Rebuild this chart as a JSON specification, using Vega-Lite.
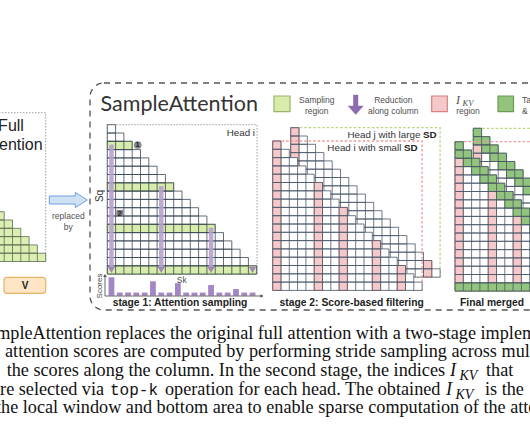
{
"$schema":"https://vega.github.io/schema/vega-lite/v6.json",
"width":530,"height":442,"padding":0,"autosize":{"type":"none"},"background":"white",
"config":{"view":{"stroke":null},"axis":{"disable":true},"legend":{"disable":true}},
"resolve":{"scale":{"x":"independent","y":"independent"}},
"datasets":{
"tri":[{"r":0,"r1":1,"c0":0,"c1":1,"e":18},{"r":1,"r1":2,"c0":0,"c1":2,"e":18},{"r":2,"r1":3,"c0":0,"c1":3,"e":18},{"r":3,"r1":4,"c0":0,"c1":4,"e":18},{"r":4,"r1":5,"c0":0,"c1":5,"e":18},{"r":5,"r1":6,"c0":0,"c1":6,"e":18},{"r":6,"r1":7,"c0":0,"c1":7,"e":18},{"r":7,"r1":8,"c0":0,"c1":8,"e":18},{"r":8,"r1":9,"c0":0,"c1":9,"e":18},{"r":9,"r1":10,"c0":0,"c1":10,"e":18},{"r":10,"r1":11,"c0":0,"c1":11,"e":18},{"r":11,"r1":12,"c0":0,"c1":12,"e":18},{"r":12,"r1":13,"c0":0,"c1":13,"e":18},{"r":13,"r1":14,"c0":0,"c1":14,"e":18},{"r":14,"r1":15,"c0":0,"c1":15,"e":18},{"r":15,"r1":16,"c0":0,"c1":16,"e":18},{"r":16,"r1":17,"c0":0,"c1":17,"e":18},{"r":17,"r1":18,"c0":0,"c1":18,"e":18}]
},
"layer":[
{"data":{"values":[{"x":90,"x2":600,"y":83,"y2":310}]},"mark":{"type":"rect","fillOpacity":0,"stroke":"#555","strokeWidth":1.3,"strokeDash":[6,5],"cornerRadius":14},
 "encoding":{"x":{"field":"x","type":"quantitative","scale":{"domain":[0,530],"range":[0,530],"nice":false,"zero":false}},"x2":{"field":"x2"},"y":{"field":"y","type":"quantitative","scale":{"domain":[0,442],"range":[0,442],"nice":false,"zero":false}},"y2":{"field":"y2"}}},
{"data":{"values":[{"x":-10,"x2":45.7,"y":112.7,"y2":261.5},{"x":107.3,"x2":257,"y":124.7,"y2":274}]},"mark":{"type":"rect","fillOpacity":0,"stroke":"#9aa0a6","strokeWidth":1,"strokeDash":[1.5,1.5]},
 "encoding":{"x":{"field":"x","type":"quantitative","scale":{"domain":[0,530],"range":[0,530],"nice":false,"zero":false}},"x2":{"field":"x2"},"y":{"field":"y","type":"quantitative","scale":{"domain":[0,442],"range":[0,442],"nice":false,"zero":false}},"y2":{"field":"y2"}}},

{"data":{"name":"tri"},"layer":[
 {"mark":{"type":"rect","fill":"#dcefb3","strokeWidth":0},"encoding":{"x":{"field":"c0","type":"quantitative","scale":{"domain":[0,18],"range":[-103.7,45.7],"nice":false,"zero":false}},"x2":{"field":"c1"},"y":{"field":"r","type":"quantitative","scale":{"domain":[0,18],"range":[112.1,261.5],"nice":false,"zero":false}},"y2":{"field":"r1"}}},
 {"mark":{"type":"rect","fillOpacity":0,"stroke":"#5d6b4f","strokeWidth":0.8},"encoding":{"x":{"field":"c0","type":"quantitative","scale":{"domain":[0,18],"range":[-103.7,45.7],"nice":false,"zero":false}},"x2":{"field":"c1"},"y":{"field":"r","type":"quantitative","scale":{"domain":[0,18],"range":[112.1,261.5],"nice":false,"zero":false}},"y2":{"field":"r1"}}},
 {"mark":{"type":"rule","stroke":"#5d6b4f","strokeWidth":0.8},"encoding":{"x":{"field":"c1","type":"quantitative","scale":{"domain":[0,18],"range":[-103.7,45.7],"nice":false,"zero":false}},"y":{"field":"c1","type":"quantitative","scale":{"domain":[0,18],"range":[112.1,261.5],"nice":false,"zero":false}},"y2":{"field":"e"}}}
]},

{"data":{"values":[{"x":4,"x2":45.7,"y":277.3,"y2":293.3}]},"mark":{"type":"rect","fill":"#fde5c6","stroke":"#e6b465","strokeWidth":1.2,"cornerRadius":3},
 "encoding":{"x":{"field":"x","type":"quantitative","scale":{"domain":[0,530],"range":[0,530],"nice":false,"zero":false}},"x2":{"field":"x2"},"y":{"field":"y","type":"quantitative","scale":{"domain":[0,442],"range":[0,442],"nice":false,"zero":false}},"y2":{"field":"y2"}}},

{"data":{"values":[{"x":68.3,"y":200}]},"mark":{"type":"point","filled":true,"shape":"M-1,-0.21 L0.37,-0.21 L0.37,-0.4 L1,0 L0.37,0.4 L0.37,0.21 L-1,0.21 Z","size":1444,"fill":"#cfe2f3","stroke":"#6d9eeb","strokeWidth":1,"opacity":1},
 "encoding":{"x":{"field":"x","type":"quantitative","scale":{"domain":[0,530],"range":[0,530],"nice":false,"zero":false}},"y":{"field":"y","type":"quantitative","scale":{"domain":[0,442],"range":[0,442],"nice":false,"zero":false}}}},
{"data":{"values":[{"x":355.7,"y":104.7}]},"mark":{"type":"point","filled":true,"shape":"M-0.25,-1 L0.25,-1 L0.25,0.1 L0.8,0.1 L0,1 L-0.8,0.1 L-0.25,0.1 Z","size":400,"fill":"#8e6cae","strokeWidth":0,"opacity":1},
 "encoding":{"x":{"field":"x","type":"quantitative","scale":{"domain":[0,530],"range":[0,530],"nice":false,"zero":false}},"y":{"field":"y","type":"quantitative","scale":{"domain":[0,442],"range":[0,442],"nice":false,"zero":false}}}},
{"data":{"values":[{"k":"sample","x":274,"x2":290,"y":96,"y2":111.7},{"k":"pink","x":431.7,"x2":447.3,"y":96,"y2":111.7},{"k":"green","x":498,"x2":513.5,"y":96,"y2":111.7}]},"mark":{"type":"rect","strokeWidth":1.2},
 "encoding":{"x":{"field":"x","type":"quantitative","scale":{"domain":[0,530],"range":[0,530],"nice":false,"zero":false}},"x2":{"field":"x2"},"y":{"field":"y","type":"quantitative","scale":{"domain":[0,442],"range":[0,442],"nice":false,"zero":false}},"y2":{"field":"y2"},
 "fill":{"field":"k","type":"nominal","scale":{"domain":["sample","pink","green"],"range":["#d8ecab","#f4c9c9","#93c47d"]},"legend":null},
 "stroke":{"field":"k","type":"nominal","scale":{"domain":["sample","pink","green"],"range":["#9bb36d","#d98080","#6d9b57"]},"legend":null}}},

{"data":{"name":"tri"},"layer":[
 {"mark":{"type":"rect","fill":"#ffffff","strokeWidth":0},"encoding":{"x":{"field":"c0","type":"quantitative","scale":{"domain":[0,18],"range":[107.3,256.7],"nice":false,"zero":false}},"x2":{"field":"c1"},"y":{"field":"r","type":"quantitative","scale":{"domain":[0,18],"range":[124.7,274.1],"nice":false,"zero":false}},"y2":{"field":"r1"}}},
 {"data":{"values":[{"k":"sample","c0":0,"c1":3,"r0":2,"r1":3},{"k":"sample","c0":0,"c1":8,"r0":7,"r1":8},{"k":"sample","c0":0,"c1":13,"r0":12,"r1":13},{"k":"sample","c0":0,"c1":18,"r0":17,"r1":18}]},"mark":{"type":"rect","strokeWidth":0.8},
  "encoding":{"x":{"field":"c0","type":"quantitative","scale":{"domain":[0,18],"range":[107.3,256.7],"nice":false,"zero":false}},"x2":{"field":"c1"},"y":{"field":"r0","type":"quantitative","scale":{"domain":[0,18],"range":[124.7,274.1],"nice":false,"zero":false}},"y2":{"field":"r1"},
  "fill":{"field":"k","type":"nominal","scale":{"domain":["sample","pink","green"],"range":["#d8ecab","#f4c9c9","#93c47d"]},"legend":null},
  "stroke":{"field":"k","type":"nominal","scale":{"domain":["sample","pink","green"],"range":["#9bb36d","#d98080","#6d9b57"]},"legend":null}}},
 {"mark":{"type":"rect","fillOpacity":0,"stroke":"#3a4756","strokeWidth":0.8},"encoding":{"x":{"field":"c0","type":"quantitative","scale":{"domain":[0,18],"range":[107.3,256.7],"nice":false,"zero":false}},"x2":{"field":"c1"},"y":{"field":"r","type":"quantitative","scale":{"domain":[0,18],"range":[124.7,274.1],"nice":false,"zero":false}},"y2":{"field":"r1"}}},
 {"mark":{"type":"rule","stroke":"#3a4756","strokeWidth":0.8},"encoding":{"x":{"field":"c1","type":"quantitative","scale":{"domain":[0,18],"range":[107.3,256.7],"nice":false,"zero":false}},"y":{"field":"c1","type":"quantitative","scale":{"domain":[0,18],"range":[124.7,274.1],"nice":false,"zero":false}},"y2":{"field":"e"}}}
]},
{"data":{"values":[{"c":0,"r":2.4,"r2":17.3,"h":17.5},{"c":6,"r":7.4,"r2":17.3,"h":17.5},{"c":12,"r":12.4,"r2":17.3,"h":17.5},{"c":17,"r":17.2,"r2":17.3,"h":17.5}]},"layer":[
 {"mark":{"type":"rule","stroke":"#b7a0cf","strokeWidth":4.5,"opacity":0.9},"encoding":{"x":{"field":"c","type":"ordinal","scale":{"type":"point","domain":[0,1,2,3,4,5,6,7,8,9,10,11,12,13,14,15,16,17],"range":[107.3,256.7],"padding":0.5}},"y":{"field":"r","type":"quantitative","scale":{"domain":[0,18],"range":[124.7,274.1],"nice":false,"zero":false}},"y2":{"field":"r2"}}},
 {"mark":{"type":"point","shape":"triangle-down","filled":true,"size":50,"fill":"#9f88b8","opacity":1},"encoding":{"x":{"field":"c","type":"ordinal","scale":{"type":"point","domain":[0,1,2,3,4,5,6,7,8,9,10,11,12,13,14,15,16,17],"range":[107.3,256.7],"padding":0.5}},"y":{"field":"h","type":"quantitative","scale":{"domain":[0,18],"range":[124.7,274.1],"nice":false,"zero":false}}}}
]},
{"data":{"values":[{"c":0,"s":1.0},{"c":1,"s":0.17},{"c":2,"s":0.17},{"c":3,"s":0.17},{"c":4,"s":0.17},{"c":5,"s":0.78},{"c":6,"s":0.17},{"c":7,"s":0.17},{"c":8,"s":0.68},{"c":9,"s":0.17},{"c":10,"s":0.17},{"c":11,"s":0.17},{"c":12,"s":0.58},{"c":13,"s":0.17},{"c":14,"s":0.17},{"c":15,"s":0.36},{"c":16,"s":0.17},{"c":17,"s":0.17}]},
 "mark":{"type":"bar","fill":"#a387c4"},
 "encoding":{"x":{"field":"c","type":"ordinal","scale":{"type":"band","domain":[0,1,2,3,4,5,6,7,8,9,10,11,12,13,14,15,16,17],"range":[107.3,256.7],"paddingInner":0.3,"paddingOuter":0.15}},"y":{"field":"s","type":"quantitative","scale":{"domain":[0,1],"range":[295.7,277.3],"nice":false,"zero":true}}}},
{"data":{"values":[{"x":105,"y":296,"x2":105,"y2":276},{"x":105,"y":296,"x2":261,"y2":296}]},"mark":{"type":"rule","stroke":"#555","strokeWidth":0.9},
 "encoding":{"x":{"field":"x","type":"quantitative","scale":{"domain":[0,530],"range":[0,530],"nice":false,"zero":false}},"x2":{"field":"x2"},"y":{"field":"y","type":"quantitative","scale":{"domain":[0,442],"range":[0,442],"nice":false,"zero":false}},"y2":{"field":"y2"}}},
{"data":{"values":[{"x":105,"y":275.5}]},"mark":{"type":"point","shape":"triangle-up","filled":true,"size":14,"fill":"#555","opacity":1},
 "encoding":{"x":{"field":"x","type":"quantitative","scale":{"domain":[0,530],"range":[0,530],"nice":false,"zero":false}},"y":{"field":"y","type":"quantitative","scale":{"domain":[0,442],"range":[0,442],"nice":false,"zero":false}}}},
{"data":{"values":[{"x":262,"y":296}]},"mark":{"type":"point","shape":"triangle-right","filled":true,"size":14,"fill":"#555","opacity":1},
 "encoding":{"x":{"field":"x","type":"quantitative","scale":{"domain":[0,530],"range":[0,530],"nice":false,"zero":false}},"y":{"field":"y","type":"quantitative","scale":{"domain":[0,442],"range":[0,442],"nice":false,"zero":false}}}},
{"data":{"values":[{"x":137.7,"y":145}]},"mark":{"type":"point","shape":"circle","filled":true,"size":60,"fill":"#8a8a8a","opacity":1},
 "encoding":{"x":{"field":"x","type":"quantitative","scale":{"domain":[0,530],"range":[0,530],"nice":false,"zero":false}},"y":{"field":"y","type":"quantitative","scale":{"domain":[0,442],"range":[0,442],"nice":false,"zero":false}}}},
{"data":{"values":[{"x":119.7,"y":213.3}]},"mark":{"type":"point","shape":"square","filled":true,"size":45,"fill":"#7f7f7f","opacity":1},
 "encoding":{"x":{"field":"x","type":"quantitative","scale":{"domain":[0,530],"range":[0,530],"nice":false,"zero":false}},"y":{"field":"y","type":"quantitative","scale":{"domain":[0,442],"range":[0,442],"nice":false,"zero":false}}}},

{"data":{"values":[{"x":290.7,"x2":440.1,"y":127.7,"y2":277.1}]},"mark":{"type":"rect","fillOpacity":0,"stroke":"#b5d67a","strokeWidth":1.3,"strokeDash":[2.5,2]},
 "encoding":{"x":{"field":"x","type":"quantitative","scale":{"domain":[0,530],"range":[0,530],"nice":false,"zero":false}},"x2":{"field":"x2"},"y":{"field":"y","type":"quantitative","scale":{"domain":[0,442],"range":[0,442],"nice":false,"zero":false}},"y2":{"field":"y2"}}},
{"data":{"name":"tri"},"layer":[
 {"mark":{"type":"rect","fill":"#ffffff","strokeWidth":0},"encoding":{"x":{"field":"c0","type":"quantitative","scale":{"domain":[0,18],"range":[290.7,440.1],"nice":false,"zero":false}},"x2":{"field":"c1"},"y":{"field":"r","type":"quantitative","scale":{"domain":[0,18],"range":[127.7,277.1],"nice":false,"zero":false}},"y2":{"field":"r1"}}},
 {"data":{"values":[{"k":"pink","c0":0,"c1":1,"r0":0,"r1":18},{"k":"pink","c0":16,"c1":17,"r0":16,"r1":18}]},"mark":{"type":"rect","strokeWidth":0.8},
  "encoding":{"x":{"field":"c0","type":"quantitative","scale":{"domain":[0,18],"range":[290.7,440.1],"nice":false,"zero":false}},"x2":{"field":"c1"},"y":{"field":"r0","type":"quantitative","scale":{"domain":[0,18],"range":[127.7,277.1],"nice":false,"zero":false}},"y2":{"field":"r1"},
  "fill":{"field":"k","type":"nominal","scale":{"domain":["sample","pink","green"],"range":["#d8ecab","#f4c9c9","#93c47d"]},"legend":null},
  "stroke":{"field":"k","type":"nominal","scale":{"domain":["sample","pink","green"],"range":["#9bb36d","#d98080","#6d9b57"]},"legend":null}}},
 {"mark":{"type":"rect","fillOpacity":0,"stroke":"#4a586a","strokeWidth":0.8},"encoding":{"x":{"field":"c0","type":"quantitative","scale":{"domain":[0,18],"range":[290.7,440.1],"nice":false,"zero":false}},"x2":{"field":"c1"},"y":{"field":"r","type":"quantitative","scale":{"domain":[0,18],"range":[127.7,277.1],"nice":false,"zero":false}},"y2":{"field":"r1"}}},
 {"mark":{"type":"rule","stroke":"#4a586a","strokeWidth":0.8},"encoding":{"x":{"field":"c1","type":"quantitative","scale":{"domain":[0,18],"range":[290.7,440.1],"nice":false,"zero":false}},"y":{"field":"c1","type":"quantitative","scale":{"domain":[0,18],"range":[127.7,277.1],"nice":false,"zero":false}},"y2":{"field":"e"}}}
]},
{"data":{"values":[{"x":272.7,"x2":422.1,"y":141,"y2":290.4}]},"mark":{"type":"rect","fillOpacity":0,"stroke":"#ef9a9a","strokeWidth":1.3,"strokeDash":[2.5,2]},
 "encoding":{"x":{"field":"x","type":"quantitative","scale":{"domain":[0,530],"range":[0,530],"nice":false,"zero":false}},"x2":{"field":"x2"},"y":{"field":"y","type":"quantitative","scale":{"domain":[0,442],"range":[0,442],"nice":false,"zero":false}},"y2":{"field":"y2"}}},
{"data":{"name":"tri"},"layer":[
 {"mark":{"type":"rect","fill":"#ffffff","strokeWidth":0},"encoding":{"x":{"field":"c0","type":"quantitative","scale":{"domain":[0,18],"range":[272.7,422.1],"nice":false,"zero":false}},"x2":{"field":"c1"},"y":{"field":"r","type":"quantitative","scale":{"domain":[0,18],"range":[141,290.4],"nice":false,"zero":false}},"y2":{"field":"r1"}}},
 {"data":{"values":[{"k":"pink","c0":0,"c1":1,"r0":0,"r1":18},{"k":"pink","c0":5,"c1":6,"r0":5,"r1":18},{"k":"pink","c0":8,"c1":9,"r0":8,"r1":18},{"k":"pink","c0":12,"c1":13,"r0":12,"r1":18},{"k":"pink","c0":15,"c1":16,"r0":15,"r1":18}]},"mark":{"type":"rect","strokeWidth":0.8},
  "encoding":{"x":{"field":"c0","type":"quantitative","scale":{"domain":[0,18],"range":[272.7,422.1],"nice":false,"zero":false}},"x2":{"field":"c1"},"y":{"field":"r0","type":"quantitative","scale":{"domain":[0,18],"range":[141,290.4],"nice":false,"zero":false}},"y2":{"field":"r1"},
  "fill":{"field":"k","type":"nominal","scale":{"domain":["sample","pink","green"],"range":["#d8ecab","#f4c9c9","#93c47d"]},"legend":null},
  "stroke":{"field":"k","type":"nominal","scale":{"domain":["sample","pink","green"],"range":["#9bb36d","#d98080","#6d9b57"]},"legend":null}}},
 {"mark":{"type":"rect","fillOpacity":0,"stroke":"#4a586a","strokeWidth":0.8},"encoding":{"x":{"field":"c0","type":"quantitative","scale":{"domain":[0,18],"range":[272.7,422.1],"nice":false,"zero":false}},"x2":{"field":"c1"},"y":{"field":"r","type":"quantitative","scale":{"domain":[0,18],"range":[141,290.4],"nice":false,"zero":false}},"y2":{"field":"r1"}}},
 {"mark":{"type":"rule","stroke":"#4a586a","strokeWidth":0.8},"encoding":{"x":{"field":"c1","type":"quantitative","scale":{"domain":[0,18],"range":[272.7,422.1],"nice":false,"zero":false}},"y":{"field":"c1","type":"quantitative","scale":{"domain":[0,18],"range":[141,290.4],"nice":false,"zero":false}},"y2":{"field":"e"}}}
]},

{"data":{"values":[{"x":473.3,"x2":622.7,"y":128.3,"y2":277.7}]},"mark":{"type":"rect","fillOpacity":0,"stroke":"#b5d67a","strokeWidth":1.3,"strokeDash":[2.5,2]},
 "encoding":{"x":{"field":"x","type":"quantitative","scale":{"domain":[0,530],"range":[0,530],"nice":false,"zero":false}},"x2":{"field":"x2"},"y":{"field":"y","type":"quantitative","scale":{"domain":[0,442],"range":[0,442],"nice":false,"zero":false}},"y2":{"field":"y2"}}},
{"data":{"name":"tri"},"layer":[
 {"mark":{"type":"rect","fill":"#ffffff","strokeWidth":0},"encoding":{"x":{"field":"c0","type":"quantitative","scale":{"domain":[0,18],"range":[473.3,622.7],"nice":false,"zero":false}},"x2":{"field":"c1"},"y":{"field":"r","type":"quantitative","scale":{"domain":[0,18],"range":[128.3,277.7],"nice":false,"zero":false}},"y2":{"field":"r1"}}},
 {"data":{"values":[{"k":"pink","c0":0,"c1":1,"r0":2,"r1":18},{"k":"green","c0":0,"c1":1,"r0":0,"r1":1},{"k":"green","c0":0,"c1":2,"r0":1,"r1":2},{"k":"green","c0":1,"c1":3,"r0":2,"r1":3},{"k":"green","c0":2,"c1":4,"r0":3,"r1":4},{"k":"green","c0":3,"c1":5,"r0":4,"r1":5},{"k":"green","c0":4,"c1":6,"r0":5,"r1":6},{"k":"green","c0":5,"c1":7,"r0":6,"r1":7},{"k":"green","c0":6,"c1":8,"r0":7,"r1":8},{"k":"green","c0":7,"c1":9,"r0":8,"r1":9}]},"mark":{"type":"rect","strokeWidth":0.8},
  "encoding":{"x":{"field":"c0","type":"quantitative","scale":{"domain":[0,18],"range":[473.3,622.7],"nice":false,"zero":false}},"x2":{"field":"c1"},"y":{"field":"r0","type":"quantitative","scale":{"domain":[0,18],"range":[128.3,277.7],"nice":false,"zero":false}},"y2":{"field":"r1"},
  "fill":{"field":"k","type":"nominal","scale":{"domain":["sample","pink","green"],"range":["#d8ecab","#f4c9c9","#93c47d"]},"legend":null},
  "stroke":{"field":"k","type":"nominal","scale":{"domain":["sample","pink","green"],"range":["#9bb36d","#d98080","#6d9b57"]},"legend":null}}},
 {"mark":{"type":"rect","fillOpacity":0,"stroke":"#4a586a","strokeWidth":0.8},"encoding":{"x":{"field":"c0","type":"quantitative","scale":{"domain":[0,18],"range":[473.3,622.7],"nice":false,"zero":false}},"x2":{"field":"c1"},"y":{"field":"r","type":"quantitative","scale":{"domain":[0,18],"range":[128.3,277.7],"nice":false,"zero":false}},"y2":{"field":"r1"}}},
 {"mark":{"type":"rule","stroke":"#4a586a","strokeWidth":0.8},"encoding":{"x":{"field":"c1","type":"quantitative","scale":{"domain":[0,18],"range":[473.3,622.7],"nice":false,"zero":false}},"y":{"field":"c1","type":"quantitative","scale":{"domain":[0,18],"range":[128.3,277.7],"nice":false,"zero":false}},"y2":{"field":"e"}}}
]},
{"data":{"values":[{"x":455,"x2":604.4,"y":141.7,"y2":291.1}]},"mark":{"type":"rect","fillOpacity":0,"stroke":"#ef9a9a","strokeWidth":1.3,"strokeDash":[2.5,2]},
 "encoding":{"x":{"field":"x","type":"quantitative","scale":{"domain":[0,530],"range":[0,530],"nice":false,"zero":false}},"x2":{"field":"x2"},"y":{"field":"y","type":"quantitative","scale":{"domain":[0,442],"range":[0,442],"nice":false,"zero":false}},"y2":{"field":"y2"}}},
{"data":{"name":"tri"},"layer":[
 {"mark":{"type":"rect","fill":"#ffffff","strokeWidth":0},"encoding":{"x":{"field":"c0","type":"quantitative","scale":{"domain":[0,18],"range":[455,604.4],"nice":false,"zero":false}},"x2":{"field":"c1"},"y":{"field":"r","type":"quantitative","scale":{"domain":[0,18],"range":[141.7,291.1],"nice":false,"zero":false}},"y2":{"field":"r1"}}},
 {"data":{"values":[{"k":"pink","c0":0,"c1":1,"r0":2,"r1":17},{"k":"pink","c0":4,"c1":5,"r0":6,"r1":17},{"k":"pink","c0":7,"c1":8,"r0":9,"r1":17},{"k":"pink","c0":11,"c1":12,"r0":13,"r1":17},{"k":"green","c0":0,"c1":1,"r0":0,"r1":1},{"k":"green","c0":0,"c1":2,"r0":1,"r1":2},{"k":"green","c0":1,"c1":3,"r0":2,"r1":3},{"k":"green","c0":2,"c1":4,"r0":3,"r1":4},{"k":"green","c0":3,"c1":5,"r0":4,"r1":5},{"k":"green","c0":4,"c1":6,"r0":5,"r1":6},{"k":"green","c0":5,"c1":7,"r0":6,"r1":7},{"k":"green","c0":6,"c1":8,"r0":7,"r1":8},{"k":"green","c0":7,"c1":9,"r0":8,"r1":9},{"k":"green","c0":8,"c1":10,"r0":9,"r1":10},{"k":"green","c0":9,"c1":11,"r0":10,"r1":11},{"k":"green","c0":10,"c1":12,"r0":11,"r1":12},{"k":"green","c0":0,"c1":18,"r0":17,"r1":18}]},"mark":{"type":"rect","strokeWidth":0.8},
  "encoding":{"x":{"field":"c0","type":"quantitative","scale":{"domain":[0,18],"range":[455,604.4],"nice":false,"zero":false}},"x2":{"field":"c1"},"y":{"field":"r0","type":"quantitative","scale":{"domain":[0,18],"range":[141.7,291.1],"nice":false,"zero":false}},"y2":{"field":"r1"},
  "fill":{"field":"k","type":"nominal","scale":{"domain":["sample","pink","green"],"range":["#d8ecab","#f4c9c9","#93c47d"]},"legend":null},
  "stroke":{"field":"k","type":"nominal","scale":{"domain":["sample","pink","green"],"range":["#9bb36d","#d98080","#6d9b57"]},"legend":null}}},
 {"mark":{"type":"rect","fillOpacity":0,"stroke":"#4a586a","strokeWidth":0.8},"encoding":{"x":{"field":"c0","type":"quantitative","scale":{"domain":[0,18],"range":[455,604.4],"nice":false,"zero":false}},"x2":{"field":"c1"},"y":{"field":"r","type":"quantitative","scale":{"domain":[0,18],"range":[141.7,291.1],"nice":false,"zero":false}},"y2":{"field":"r1"}}},
 {"mark":{"type":"rule","stroke":"#4a586a","strokeWidth":0.8},"encoding":{"x":{"field":"c1","type":"quantitative","scale":{"domain":[0,18],"range":[455,604.4],"nice":false,"zero":false}},"y":{"field":"c1","type":"quantitative","scale":{"domain":[0,18],"range":[141.7,291.1],"nice":false,"zero":false}},"y2":{"field":"e"}}}
]},

{"data":{"values":[{"x":11,"y":126,"t":"Full"},{"x":11,"y":144.5,"t":"Attention"}]},"mark":{"type":"text","font":"Liberation Sans","fontSize":16,"color":"#222","align":"center","baseline":"middle"},
 "encoding":{"x":{"field":"x","type":"quantitative","scale":{"domain":[0,530],"range":[0,530],"nice":false,"zero":false}},"y":{"field":"y","type":"quantitative","scale":{"domain":[0,442],"range":[0,442],"nice":false,"zero":false}},"text":{"field":"t"}}},
{"data":{"values":[{"x":100.5,"y":110.5,"t":"SampleAttention"}]},"mark":{"type":"text","font":"Lato","fontSize":21.5,"color":"#333","align":"left","baseline":"alphabetic"},
 "encoding":{"x":{"field":"x","type":"quantitative","scale":{"domain":[0,530],"range":[0,530],"nice":false,"zero":false}},"y":{"field":"y","type":"quantitative","scale":{"domain":[0,442],"range":[0,442],"nice":false,"zero":false}},"text":{"field":"t"}}},
{"data":{"values":[{"x":316.7,"y":100,"t":"Sampling"},{"x":316.7,"y":110.5,"t":"region"},{"x":393.3,"y":100,"t":"Reduction"},{"x":393.3,"y":110.5,"t":"along column"},{"x":468,"y":110.5,"t":"region"},{"x":68.3,"y":215.5,"t":"replaced"},{"x":68.3,"y":227,"t":"by"},{"x":181.7,"y":279.5,"t":"Sk"}]},"mark":{"type":"text","font":"Liberation Sans","fontSize":8.5,"color":"#505050","align":"center","baseline":"middle"},
 "encoding":{"x":{"field":"x","type":"quantitative","scale":{"domain":[0,530],"range":[0,530],"nice":false,"zero":false}},"y":{"field":"y","type":"quantitative","scale":{"domain":[0,442],"range":[0,442],"nice":false,"zero":false}},"text":{"field":"t"}}},
{"data":{"values":[{"x":522,"y":100,"t":"Tail"},{"x":522,"y":110.5,"t":"& local window"}]},"mark":{"type":"text","font":"Liberation Sans","fontSize":8.5,"color":"#505050","align":"left","baseline":"middle"},
 "encoding":{"x":{"field":"x","type":"quantitative","scale":{"domain":[0,530],"range":[0,530],"nice":false,"zero":false}},"y":{"field":"y","type":"quantitative","scale":{"domain":[0,442],"range":[0,442],"nice":false,"zero":false}},"text":{"field":"t"}}},
{"data":{"values":[{"x":456,"y":103.5,"t":"I"}]},"mark":{"type":"text","font":"Liberation Serif","fontStyle":"italic","fontSize":12,"color":"#505050","align":"left","baseline":"alphabetic"},
 "encoding":{"x":{"field":"x","type":"quantitative","scale":{"domain":[0,530],"range":[0,530],"nice":false,"zero":false}},"y":{"field":"y","type":"quantitative","scale":{"domain":[0,442],"range":[0,442],"nice":false,"zero":false}},"text":{"field":"t"}}},
{"data":{"values":[{"x":462.5,"y":106,"t":"KV"}]},"mark":{"type":"text","font":"Liberation Serif","fontStyle":"italic","fontSize":8.5,"color":"#505050","align":"left","baseline":"alphabetic"},
 "encoding":{"x":{"field":"x","type":"quantitative","scale":{"domain":[0,530],"range":[0,530],"nice":false,"zero":false}},"y":{"field":"y","type":"quantitative","scale":{"domain":[0,442],"range":[0,442],"nice":false,"zero":false}},"text":{"field":"t"}}},
{"data":{"values":[{"x":255,"y":133,"t":"Head i"},{"x":420.4,"y":135,"t":"Head j with large"},{"x":401.4,"y":148.3,"t":"Head i with small"}]},"mark":{"type":"text","font":"Liberation Sans","fontSize":9.8,"color":"#333","align":"right","baseline":"middle"},
 "encoding":{"x":{"field":"x","type":"quantitative","scale":{"domain":[0,530],"range":[0,530],"nice":false,"zero":false}},"y":{"field":"y","type":"quantitative","scale":{"domain":[0,442],"range":[0,442],"nice":false,"zero":false}},"text":{"field":"t"}}},
{"data":{"values":[{"x":436.7,"y":135,"t":"SD"},{"x":417.7,"y":148.3,"t":"SD"}]},"mark":{"type":"text","font":"Liberation Sans","fontWeight":"bold","fontSize":9.8,"color":"#222","align":"right","baseline":"middle"},
 "encoding":{"x":{"field":"x","type":"quantitative","scale":{"domain":[0,530],"range":[0,530],"nice":false,"zero":false}},"y":{"field":"y","type":"quantitative","scale":{"domain":[0,442],"range":[0,442],"nice":false,"zero":false}},"text":{"field":"t"}}},
{"data":{"values":[{"x":100.3,"y":196,"t":"Sq"}]},"mark":{"type":"text","font":"Liberation Sans","fontSize":10,"color":"#333","align":"center","baseline":"middle","angle":270},
 "encoding":{"x":{"field":"x","type":"quantitative","scale":{"domain":[0,530],"range":[0,530],"nice":false,"zero":false}},"y":{"field":"y","type":"quantitative","scale":{"domain":[0,442],"range":[0,442],"nice":false,"zero":false}},"text":{"field":"t"}}},
{"data":{"values":[{"x":100,"y":286,"t":"Scores"}]},"mark":{"type":"text","font":"Liberation Sans","fontSize":8,"color":"#444","align":"center","baseline":"middle","angle":270},
 "encoding":{"x":{"field":"x","type":"quantitative","scale":{"domain":[0,530],"range":[0,530],"nice":false,"zero":false}},"y":{"field":"y","type":"quantitative","scale":{"domain":[0,442],"range":[0,442],"nice":false,"zero":false}},"text":{"field":"t"}}},
{"data":{"values":[{"x":137.7,"y":145.3,"t":"1"},{"x":119.7,"y":213.6,"t":"2"}]},"mark":{"type":"text","font":"Liberation Sans","fontWeight":"bold","fontSize":7.5,"color":"#222","align":"center","baseline":"middle"},
 "encoding":{"x":{"field":"x","type":"quantitative","scale":{"domain":[0,530],"range":[0,530],"nice":false,"zero":false}},"y":{"field":"y","type":"quantitative","scale":{"domain":[0,442],"range":[0,442],"nice":false,"zero":false}},"text":{"field":"t"}}},
{"data":{"values":[{"x":25,"y":285.5,"t":"V"}]},"mark":{"type":"text","font":"Liberation Sans","fontWeight":"bold","fontSize":10,"color":"#222","align":"center","baseline":"middle"},
 "encoding":{"x":{"field":"x","type":"quantitative","scale":{"domain":[0,530],"range":[0,530],"nice":false,"zero":false}},"y":{"field":"y","type":"quantitative","scale":{"domain":[0,442],"range":[0,442],"nice":false,"zero":false}},"text":{"field":"t"}}},
{"data":{"values":[{"x":180,"y":303.3,"t":"stage 1: Attention sampling"},{"x":351.7,"y":303.3,"t":"stage 2: Score-based filtering"}]},"mark":{"type":"text","font":"Liberation Sans","fontWeight":"bold","fontSize":10.3,"color":"#222","align":"center","baseline":"middle"},
 "encoding":{"x":{"field":"x","type":"quantitative","scale":{"domain":[0,530],"range":[0,530],"nice":false,"zero":false}},"y":{"field":"y","type":"quantitative","scale":{"domain":[0,442],"range":[0,442],"nice":false,"zero":false}},"text":{"field":"t"}}},
{"data":{"values":[{"x":460,"y":303.3,"t":"Final merged"}]},"mark":{"type":"text","font":"Liberation Sans","fontWeight":"bold","fontSize":10.3,"color":"#222","align":"left","baseline":"middle"},
 "encoding":{"x":{"field":"x","type":"quantitative","scale":{"domain":[0,530],"range":[0,530],"nice":false,"zero":false}},"y":{"field":"y","type":"quantitative","scale":{"domain":[0,442],"range":[0,442],"nice":false,"zero":false}},"text":{"field":"t"}}},

{"data":{"values":[{"x":-22,"y":338.7,"t":"SampleAttention replaces the original full attention with a two-stage implementation"},{"x":5,"y":357.3,"t":"attention scores are computed by performing stride sampling across multiple"},{"x":6.7,"y":375.9,"t":"the scores along the column. In the second stage, the indices"},{"x":486,"y":375.9,"t":"that"},{"x":-8,"y":394.5,"t":"are selected via"},{"x":165,"y":394.5,"t":"operation for each head. The obtained"},{"x":485,"y":394.5,"t":"is the"},{"x":-4,"y":413.1,"t":"the local window and bottom area to enable sparse computation of the attention"}]},
 "mark":{"type":"text","font":"Liberation Serif","fontSize":18.2,"color":"#111","align":"left","baseline":"alphabetic"},
 "encoding":{"x":{"field":"x","type":"quantitative","scale":{"domain":[0,530],"range":[0,530],"nice":false,"zero":false}},"y":{"field":"y","type":"quantitative","scale":{"domain":[0,442],"range":[0,442],"nice":false,"zero":false}},"text":{"field":"t"}}},
{"data":{"values":[{"x":110,"y":394.5,"t":"top-k"}]},"mark":{"type":"text","font":"Liberation Mono","fontSize":16,"color":"#111","align":"left","baseline":"alphabetic"},
 "encoding":{"x":{"field":"x","type":"quantitative","scale":{"domain":[0,530],"range":[0,530],"nice":false,"zero":false}},"y":{"field":"y","type":"quantitative","scale":{"domain":[0,442],"range":[0,442],"nice":false,"zero":false}},"text":{"field":"t"}}},
{"data":{"values":[{"x":450,"y":375.9,"t":"I"},{"x":446,"y":394.5,"t":"I"}]},"mark":{"type":"text","font":"Liberation Serif","fontStyle":"italic","fontSize":18.2,"color":"#111","align":"left","baseline":"alphabetic"},
 "encoding":{"x":{"field":"x","type":"quantitative","scale":{"domain":[0,530],"range":[0,530],"nice":false,"zero":false}},"y":{"field":"y","type":"quantitative","scale":{"domain":[0,442],"range":[0,442],"nice":false,"zero":false}},"text":{"field":"t"}}},
{"data":{"values":[{"x":459.5,"y":380.4,"t":"KV"},{"x":455.5,"y":399,"t":"KV"}]},"mark":{"type":"text","font":"Liberation Serif","fontStyle":"italic","fontSize":14,"color":"#111","align":"left","baseline":"alphabetic"},
 "encoding":{"x":{"field":"x","type":"quantitative","scale":{"domain":[0,530],"range":[0,530],"nice":false,"zero":false}},"y":{"field":"y","type":"quantitative","scale":{"domain":[0,442],"range":[0,442],"nice":false,"zero":false}},"text":{"field":"t"}}}
]
}
